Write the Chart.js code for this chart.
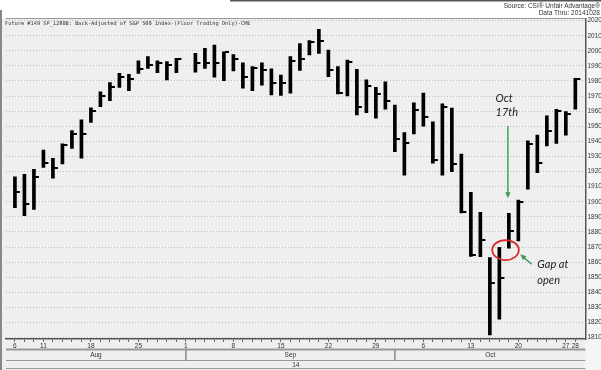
<!DOCTYPE html>
<html>
<head>
<meta charset="utf-8">
<script src="https://cdn.jsdelivr.net/npm/chart.js@4.4.1/dist/chart.umd.min.js"></script>
<style>
  html, body { margin: 0; padding: 0; background: #fff; }
  #wrap { position: relative; width: 601px; height: 370px; }
  .src { position: absolute; right: 1px; font: 6.5px "Liberation Sans", Arial, sans-serif; color: #333; white-space: nowrap; }
</style>
</head>
<body>
<div id="wrap">
  <canvas id="chart"></canvas>
  <div class="src" style="top:2px">Source: CSI® Unfair Advantage®</div>
  <div class="src" style="top:9px">Data Thru: 20141028</div>
</div>
<script>
// Trading-day slots from Aug 6 to Oct 28 2014. Slot 18 is Sep 1 (Labor Day, no bar).
const slots = [0, 1, 2, 3, 4, 5, 6, 7, 8, 9, 10, 11, 12, 13, 14, 15, 16, 17,
  19, 20, 21, 22, 23, 24, 25, 26, 27, 28, 29, 30, 31, 32, 33, 34, 35, 36, 37, 38, 39,
  40, 41, 42, 43, 44, 45, 46, 47, 48, 49, 50, 51, 52, 53, 54, 55, 56, 57, 58, 59];

const highs = [1916.6, 1918.2, 1921.5, 1934.3, 1928.8, 1938.3, 1947.1, 1954.2, 1962.3, 1972.9,
  1978.9, 1985.1, 1984.4, 1993.4, 1996.1, 1993.4, 1992.8, 1995.0,
  1998.3, 2001.7, 2003.8, 1999.4, 1997.5, 1992.1, 1989.5, 1992.0, 1988.0, 1984.0, 1996.1, 2004.8,
  2006.7, 2014.2, 2000.5, 1989.5, 1993.9, 1987.7, 1980.7, 1975.8, 1979.5,
  1964.1, 1945.8, 1965.6, 1972.0, 1953.0, 1964.8, 1962.0, 1931.6, 1906.2, 1893.0,
  1863.0, 1869.9, 1892.4, 1901.2, 1940.3, 1944.2, 1957.0, 1961.3, 1959.7, 1981.8];

const lows = [1896.1, 1890.8, 1895.0, 1922.8, 1915.6, 1925.0, 1935.4, 1928.8, 1952.6, 1963.0,
  1967.0, 1975.8, 1973.6, 1985.1, 1988.4, 1985.5, 1980.7, 1985.5,
  1985.9, 1988.4, 1982.5, 1980.2, 1986.6, 1975.2, 1973.6, 1977.3, 1970.7, 1970.5, 1972.0, 1987.0,
  1997.2, 1998.3, 1982.8, 1971.4, 1970.1, 1957.5, 1959.0, 1955.3, 1961.3,
  1933.2, 1917.7, 1944.9, 1950.0, 1925.5, 1917.7, 1920.0, 1892.6, 1863.8, 1863.6,
  1811.8, 1822.2, 1869.2, 1874.0, 1908.3, 1919.3, 1937.0, 1938.7, 1944.2, 1961.3];

const closes = [1906.7, 1898.3, 1916.6, 1925.9, 1922.6, 1937.6, 1944.9, 1944.7, 1960.3, 1970.3,
  1976.2, 1982.8, 1981.1, 1987.8, 1990.6, 1991.7, 1990.6, 1994.6,
  1992.0, 1991.7, 1991.7, 1999.0, 1994.5, 1982.8, 1988.4, 1987.0, 1979.0, 1979.0, 1993.5, 1994.5,
  2006.0, 2006.7, 1987.2, 1972.3, 1992.8, 1962.6, 1976.7, 1971.4, 1967.0,
  1941.5, 1939.1, 1960.8, 1956.4, 1927.7, 1962.6, 1925.3, 1893.4, 1864.8, 1874.7,
  1846.0, 1849.3, 1880.9, 1900.1, 1938.3, 1925.9, 1946.9, 1960.3, 1958.1, 1981.1];

const tickSlots = [0, 3, 8, 13, 18, 23, 28, 33, 38, 43, 48, 53, 58, 59];
const tickLabels = ['6', '11', '18', '25', '1', '8', '15', '22', '29', '6', '13', '20', '27', '28'];
const priceTicks = [1810, 1820, 1830, 1840, 1850, 1860, 1870, 1880, 1890, 1900, 1910,
  1920, 1930, 1940, 1950, 1960, 1970, 1980, 1990, 2000, 2010, 2020];
const months = ['Aug', 'Sep', 'Oct'];
const monthStartSlots = [18, 40];   // Sep 1, Oct 1
const yearLabel = '14';
const chartTitle = 'Future #149 SP_1280B: Back-Adjusted of S&P 500 Index-(Floor Trading Only)-CME';

const FONT = '"Liberation Sans", Arial, sans-serif';
const GREEN = '#3a9a55';

// close tick drawn to the right of the bar
const closeTick = document.createElement('canvas');
closeTick.width = 14;
closeTick.height = 2;
const tctx = closeTick.getContext('2d');
tctx.fillStyle = '#000';
tctx.fillRect(8, 0, 4, 2);

function arrow(ctx, x1, y1, x2, y2) {
    const ang = Math.atan2(y2 - y1, x2 - x1);
    ctx.beginPath();
    ctx.moveTo(x1, y1);
    ctx.lineTo(x2 - 4 * Math.cos(ang), y2 - 4 * Math.sin(ang));
    ctx.stroke();
    ctx.beginPath();
    ctx.moveTo(x2, y2);
    ctx.lineTo(x2 - 6 * Math.cos(ang) + 2.6 * Math.sin(ang), y2 - 6 * Math.sin(ang) - 2.6 * Math.cos(ang));
    ctx.lineTo(x2 - 6 * Math.cos(ang) - 2.6 * Math.sin(ang), y2 - 6 * Math.sin(ang) + 2.6 * Math.cos(ang));
    ctx.closePath();
    ctx.fill();
}

const decorations = {
    id: 'decorations',
    beforeDraw(chart) {
        const { ctx, chartArea: a } = chart;
        ctx.save();
        ctx.fillStyle = '#fff';
        ctx.fillRect(0, 0, 601, 370);
        ctx.fillStyle = '#efefef';
        ctx.fillRect(0, a.top, a.right, 370 - a.top);
        ctx.fillStyle = '#f5f5f5';
        ctx.fillRect(a.right, a.top, 601 - a.right, 370 - a.top);
        ctx.restore();
    },
    afterDraw(chart) {
        const { ctx, chartArea: a } = chart;
        const xs = chart.scales.x;
        ctx.save();
        // frame
        ctx.strokeStyle = '#555';
        ctx.lineWidth = 1.5;
        ctx.beginPath(); ctx.moveTo(230, 0.75); ctx.lineTo(601, 0.75); ctx.stroke();
        ctx.strokeStyle = '#888';
        ctx.lineWidth = 2;
        ctx.beginPath(); ctx.moveTo(1, 10); ctx.lineTo(1, 370); ctx.stroke();
        ctx.strokeStyle = '#999';
        ctx.lineWidth = 1;
        ctx.beginPath(); ctx.moveTo(a.left, a.top); ctx.lineTo(a.right, a.top); ctx.stroke();

        // title inside plot
        ctx.fillStyle = '#333';
        ctx.font = '5.3px "DejaVu Sans Mono", monospace';
        ctx.textBaseline = 'middle';
        ctx.textAlign = 'left';
        ctx.fillText(chartTitle, 5, 24);

        // month band and year row
        ctx.strokeStyle = '#999';
        ctx.lineWidth = 2;
        ctx.beginPath(); ctx.moveTo(a.left, 349.5); ctx.lineTo(a.right, 349.5); ctx.stroke();
        ctx.lineWidth = 1;
        ctx.beginPath(); ctx.moveTo(a.left, 360.5); ctx.lineTo(a.right, 360.5); ctx.stroke();
        ctx.beginPath(); ctx.moveTo(a.left, 368.5); ctx.lineTo(a.right, 368.5); ctx.stroke();
        const edges = [a.left, ...monthStartSlots.map(s => xs.getPixelForValue(s)), a.right];
        ctx.strokeStyle = '#888';
        ctx.lineWidth = 1.5;
        ctx.font = '6.5px ' + FONT;
        ctx.textAlign = 'center';
        ctx.fillStyle = '#333';
        months.forEach((m, i) => {
            if (i > 0) {
                ctx.beginPath(); ctx.moveTo(edges[i], 349.5); ctx.lineTo(edges[i], 360.5); ctx.stroke();
            }
            ctx.fillText(m, (edges[i] + edges[i + 1]) / 2, 355.5);
        });
        ctx.fillText(yearLabel, (a.left + a.right) / 2, 365);
        ctx.restore();
    },
    afterDatasetsDraw(chart) {
        const { ctx } = chart;
        const xs = chart.scales.x, ys = chart.scales.y;
        const px = v => xs.getPixelForValue(v), py = v => ys.getPixelForValue(v);
        ctx.save();
        // Oct 17th arrow
        ctx.strokeStyle = GREEN;
        ctx.fillStyle = GREEN;
        ctx.lineWidth = 1.4;
        arrow(ctx, px(51.9), py(1950.2), px(51.9), py(1902.3));
        // gap arrow
        arrow(ctx, px(54.4), py(1858.6), px(53.2), py(1865.2));
        // red ellipse around the gap
        ctx.strokeStyle = '#d42a2a';
        ctx.lineWidth = 1.8;
        ctx.beginPath();
        ctx.ellipse(px(51.65), py(1868), px(51.65) - px(50.25), py(1861.4) - py(1868), 0, 0, Math.PI * 2);
        ctx.stroke();
        // annotation text
        ctx.fillStyle = '#222';
        ctx.font = 'italic 11px Lato, "Liberation Sans", sans-serif';
        ctx.textBaseline = 'middle';
        ctx.textAlign = 'left';
        ctx.fillText('Oct', px(50.6), py(1968.5));
        ctx.fillText('17th', px(50.6), py(1959.0));
        ctx.fillText('Gap at', px(55.0), py(1858.8));
        ctx.fillText('open', px(55.0), py(1848.2));
        ctx.restore();
    }
};

new Chart(document.getElementById('chart'), {
    type: 'bar',
    data: {
        datasets: [
            {
                type: 'bar',
                data: slots.map((s, i) => ({ x: s, y: [lows[i], highs[i]] })),
                backgroundColor: '#000',
                borderWidth: 0,
                barThickness: 3,
            },
            {
                type: 'scatter',
                data: slots.map((s, i) => ({ x: s, y: closes[i] })),
                pointStyle: closeTick,
                pointRadius: 5,
                showLine: false,
            },
        ],
    },
    options: {
        responsive: true,
        maintainAspectRatio: false,
        animation: false,
        layout: { padding: { left: 2, top: 18.5, right: 0, bottom: 0 } },
        plugins: { legend: { display: false }, tooltip: { enabled: false } },
        scales: {
            x: {
                type: 'linear',
                offset: false,
                min: -0.94,
                max: 60.07,
                afterBuildTicks: s => { s.ticks = []; for (let i = 0; i <= 59; i++) s.ticks.push({ value: i }); },
                afterFit: s => { s.height = 31; },
                ticks: {
                    autoSkip: false, maxRotation: 0, padding: 0,
                    color: '#333', font: { size: 6.5, family: FONT },
                    callback: v => { const k = tickSlots.indexOf(v); return k < 0 ? '' : tickLabels[k]; },
                },
                grid: { drawOnChartArea: false, tickLength: 3, color: '#666', offset: false },
                border: { color: '#555', width: 1.5 },
            },
            y: {
                position: 'right',
                min: 1809.1,
                max: 2021.4,
                afterBuildTicks: s => { s.ticks = priceTicks.map(v => ({ value: v })); },
                afterFit: s => { s.width = 15.5; },
                ticks: { padding: 2, color: '#333', font: { size: 6.5, family: FONT }, callback: v => String(v) },
                grid: { color: '#bdbdbd', drawTicks: false },
                border: { color: '#555', width: 1.5, dash: [1, 2] },
            },
        },
    },
    plugins: [decorations],
});
</script>
</body>
</html>
